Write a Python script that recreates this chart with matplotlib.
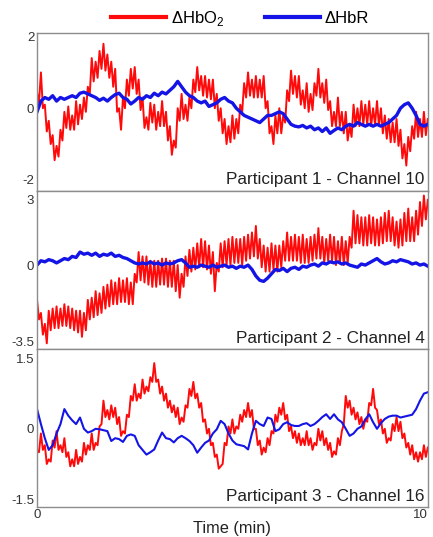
import matplotlib

matplotlib.use("Agg")
import matplotlib.pyplot as plt
import numpy as np
from matplotlib.lines import Line2D

plt.rcParams["font.family"] = ["Liberation Sans", "DejaVu Sans"]
plt.rcParams["mathtext.fontset"] = "custom"
plt.rcParams["mathtext.rm"] = "Liberation Sans"
plt.rcParams["axes.unicode_minus"] = False

# HbO2, one sample every 0.05 min (the trace swings
# between the upper and lower edge of its noisy band)
hbo2_p1 = [
    0.45, 0.15, 1.0, 0.0, 0.1, -0.65, -0.35, -1.0, -0.75, -1.45,
    -1.05, -1.35, -0.6, -0.9, -0.1, -0.55, 0.05, -0.6, -0.2, -0.6,
    0.2, -0.45, 0.1, -0.3, 0.3, -0.1, 0.6, 0.4, 1.4, 0.75,
    1.3, 0.85, 1.6, 1.1, 1.8, 1.05, 1.5, 0.85, 1.3, 0.6,
    1.1, -0.1, 0.0, -0.6, 0.3, 0.0, 0.8, 0.35, 1.1, 0.55,
    1.15, 0.4, 0.8, -0.05, 0.3, -0.55, -0.25, -0.6, 0.15, -0.4,
    0.1, -0.6, -0.1, -0.5, 0.2, -0.5, -0.1, -0.9, -0.5, -1.3,
    -0.9, -1.1, 0.0, -0.35, 0.4, -0.3, 0.1, -0.35, 0.3, 0.0,
    0.8, 0.45, 1.15, 0.5, 0.9, 0.35, 0.9, 0.3, 0.8, 0.25,
    0.8, 0.0, 0.4, -0.35, 0.0, -0.7, -0.3, -1.0, -0.5, -0.95,
    -0.2, -0.85, -0.3, -0.7, 0.1, -0.1, 0.7, 0.3, 1.0, 0.35,
    0.8, 0.3, 0.9, 0.3, 0.8, 0.3, 0.9, 0.0, 0.2, -0.7,
    -0.5, -1.0, -0.2, -0.7, 0.0, -0.7, -0.2, -0.4, 0.5, 0.2,
    1.05, 0.4, 0.9, 0.3, 0.9, 0.1, 0.5, 0.0, 0.7, -0.1,
    0.4, -0.05, 0.7, 0.35, 1.1, 0.3, 0.7, 0.15, 0.8, -0.05,
    0.2, -0.5, -0.1, -0.5, 0.3, -0.5, -0.1, -0.7, -0.1, -0.9,
    -0.5, -0.8, 0.1, -0.5, 0.0, -0.5, 0.2, -0.45, 0.1, -0.45,
    0.2, -0.5, 0.0, -0.45, 0.2, -0.5, 0.0, -0.7, -0.2, -0.85,
    -0.3, -0.95, -0.4, -0.95, -0.3, -1.05, -0.6, -1.4, -1.0, -1.6,
    -0.8, -1.2, -0.5, -0.85, -0.1, -0.8, -0.3, -0.8, -0.1, -0.75,
    -0.3,
]
hbo2_p2 = [
    -1.6, -2.5, -2.2, -3.2, -2.7, -3.6, -2.1, -3.0, -2.0, -2.9,
    -1.9, -2.9, -2.0, -2.8, -1.8, -2.8, -1.9, -2.9, -2.0, -3.0,
    -2.1, -3.1, -2.1, -3.3, -2.2, -3.0, -1.6, -2.5, -1.5, -2.4,
    -1.2, -2.3, -1.3, -2.2, -1.0, -2.0, -0.9, -1.9, -0.7, -1.8,
    -0.8, -1.8, -0.6, -1.7, -0.7, -1.7, -0.6, -1.8, -0.8, -1.8,
    -0.4, -0.8, 0.6, -0.7, 0.4, -0.8, 0.4, -0.9, 0.2, -1.0,
    0.2, -1.0, 0.2, -0.9, 0.3, -0.9, 0.3, -1.0, 0.2, -1.0,
    0.2, -1.2, 0.0, -1.5, -0.4, -1.0, 0.4, -0.5, 0.7, -0.3,
    0.8, -0.2, 1.0, -0.1, 1.2, -0.1, 1.1, -0.2, 0.9, -0.4,
    0.6, -1.2, 0.1, -0.3, 1.0, -0.1, 1.1, 0.0, 1.2, 0.0,
    1.3, 0.1, 1.2, 0.1, 1.2, 0.0, 1.3, 0.2, 1.4, 0.3,
    1.5, 0.4, 1.8, 0.3, 1.2, -0.1, 0.9, -0.3, 0.8, -0.3,
    1.0, -0.2, 0.9, -0.3, 0.9, -0.1, 1.1, 0.2, 1.5, 0.2,
    1.3, 0.2, 1.4, 0.2, 1.3, 0.1, 1.4, 0.1, 1.2, 0.1,
    1.3, 0.2, 1.4, 0.3, 1.7, 0.3, 1.3, 0.1, 1.2, 0.2,
    1.4, 0.2, 1.3, 0.0, 1.1, 0.1, 1.3, 0.0, 1.1, 0.1,
    1.3, 0.8, 2.5, 1.0, 2.3, 1.0, 2.2, 0.9, 2.2, 0.9,
    2.3, 1.0, 2.2, 0.9, 2.1, 0.9, 2.2, 1.0, 2.4, 1.1,
    2.5, 1.1, 2.2, 0.9, 2.0, 0.8, 2.1, 0.9, 2.4, 1.1,
    2.6, 1.1, 2.2, 1.1, 2.5, 1.4, 2.9, 1.8, 3.2, 2.1,
    3.0,
]
hbo2_p3 = [
    -0.45, -0.5, -0.1, -0.45, -0.35, -0.75, -0.65, -0.7, -0.25, -0.4,
    -0.05, -0.45, -0.35, -0.5, -0.2, -0.6, -0.5, -0.8, -0.65, -0.8,
    -0.45, -0.75, -0.6, -0.7, -0.3, -0.55, -0.35, -0.45, -0.1, -0.45,
    -0.3, -0.35, 0.05, 0.1, 0.6, 0.25, 0.4, 0.2, 0.5, 0.25,
    0.45, 0.1, 0.25, -0.15, -0.05, -0.1, 0.3, 0.25, 0.7, 0.6,
    0.95, 0.6, 0.75, 0.65, 1.05, 0.75, 0.9, 0.8, 1.1, 1.0,
    1.4, 1.0, 1.05, 0.75, 0.9, 0.6, 0.75, 0.45, 0.6, 0.35,
    0.5, 0.25, 0.45, 0.1, 0.24, 0.15, 0.5, 0.45, 0.85, 0.7,
    1.0, 0.65, 0.75, 0.45, 0.55, 0.15, 0.2, -0.1, 0.0, -0.35,
    -0.3, -0.6, -0.55, -0.85, -0.8, -0.75, -0.3, -0.35, 0.05, -0.1,
    0.2, -0.1, 0.05, 0.0, 0.3, 0.15, 0.4, 0.25, 0.55, 0.25,
    0.4, 0.0, 0.0, -0.35, -0.25, -0.55, -0.4, -0.5, -0.2, -0.35,
    -0.05, -0.1, 0.3, 0.15, 0.45, 0.3, 0.55, 0.2, 0.3, -0.05,
    0.05, -0.2, -0.05, -0.3, -0.1, -0.35, -0.2, -0.35, -0.05, -0.35,
    -0.2, -0.45, -0.3, -0.35, 0.0, -0.25, -0.05, -0.35, -0.2, -0.45,
    -0.3, -0.6, -0.48, -0.55, -0.2, -0.35, -0.05, 0.1, 0.7, 0.45,
    0.6, 0.3, 0.45, 0.2, 0.35, 0.1, 0.25, 0.0, 0.2, 0.15,
    0.55, 0.5, 0.85, 0.45, 0.4, 0.1, 0.2, -0.1, 0.0, -0.3,
    -0.2, -0.25, 0.1, -0.05, 0.25, -0.05, 0.15, -0.2, -0.1, -0.4,
    -0.3, -0.55, -0.35, -0.65, -0.5, -0.7, -0.5, -0.65, -0.35, -0.6,
    -0.4,
]

# HbR, one sample every 0.1 min
hbr_p1 = [
    -0.1, 0.2, 0.3, 0.25, 0.35, 0.2, 0.3, 0.25, 0.3, 0.35,
    0.3, 0.42, 0.45, 0.4, 0.35, 0.3, 0.22, 0.28, 0.2, 0.3,
    0.38, 0.42, 0.3, 0.25, 0.12, 0.2, 0.3, 0.25, 0.35, 0.3,
    0.42, 0.35, 0.45, 0.4, 0.5, 0.6, 0.75, 0.6, 0.45, 0.35,
    0.3, 0.2, 0.15, 0.2, 0.05, 0.1, 0.15, 0.25, 0.3, 0.2,
    0.15, 0.0, -0.1, -0.2, -0.25, -0.3, -0.35, -0.4, -0.3, -0.2,
    -0.2, -0.15, -0.1, -0.15, -0.3, -0.45, -0.5, -0.52, -0.48, -0.55,
    -0.5, -0.6, -0.55, -0.65, -0.55, -0.7, -0.62, -0.55, -0.6, -0.5,
    -0.45, -0.5, -0.4, -0.45, -0.5, -0.45, -0.5, -0.45, -0.5, -0.45,
    -0.4, -0.3, -0.2, 0.0, 0.1, 0.15, 0.0, -0.2, -0.45, -0.5,
    -0.45,
]
hbr_p2 = [
    0.0, 0.2, 0.15, 0.25, 0.2, 0.1, 0.2, 0.3, 0.25, 0.4,
    0.35, 0.6, 0.5, 0.55, 0.45, 0.55, 0.4, 0.5, 0.45, 0.55,
    0.4, 0.45, 0.35, 0.3, 0.2, 0.1, 0.05, 0.1, 0.05, 0.15,
    0.05, 0.1, 0.0, 0.1, 0.05, 0.1, 0.2, 0.25, 0.1, -0.1,
    -0.05, -0.1, 0.0, -0.05, -0.1, 0.0, -0.1, -0.05, 0.0, -0.1,
    -0.05, -0.15, -0.05, -0.1, 0.0, -0.2, -0.5, -0.7, -0.75, -0.6,
    -0.4, -0.2, -0.25, -0.15, -0.3, -0.15, -0.1, -0.2, -0.05, -0.1,
    0.0, 0.05, -0.05, 0.1, 0.05, 0.15, 0.1, 0.15, 0.05, 0.1,
    0.0, -0.05, -0.1, 0.05, 0.0, 0.1, 0.2, 0.3, 0.15, 0.05,
    0.1, 0.2, 0.15, 0.25, 0.2, 0.15, 0.05, 0.1, 0.0, 0.05,
    -0.05,
]
hbr_p3 = [
    0.42, 0.1, -0.2, -0.45, -0.35, -0.1, 0.1, 0.42, 0.28, 0.18,
    0.1, 0.24, 0.0, -0.08, -0.05, 0.0, -0.01, -0.03, -0.05, -0.26,
    -0.2, -0.22, -0.28, -0.15, -0.12, -0.15, -0.35, -0.45, -0.55, -0.5,
    -0.44, -0.25, -0.08, -0.2, -0.22, -0.29, -0.2, -0.15, -0.2, -0.26,
    -0.35, -0.51, -0.4, -0.3, -0.25, -0.1, -0.01, 0.17, 0.1, -0.1,
    -0.25, -0.33, -0.35, -0.37, -0.44, -0.1, 0.17, 0.1, 0.06, 0.24,
    0.21, -0.05, -0.01, 0.1, 0.14, 0.08, 0.06, 0.06, 0.1, 0.12,
    0.06, 0.1, 0.17, 0.25, 0.31, 0.21, 0.31, 0.2, 0.14, 0.0,
    -0.15, -0.1, 0.0, 0.05, 0.2, 0.31, 0.14, 0.0, 0.12, 0.21,
    0.26, 0.28, 0.28, 0.24, 0.26, 0.28, 0.3, 0.42, 0.6, 0.75,
    0.78,
]

titles = ["Participant 1 - Channel 10", "Participant 2 - Channel 4", "Participant 3 - Channel 16"]
hbo2 = [hbo2_p1, hbo2_p2, hbo2_p3]
hbr = [hbr_p1, hbr_p2, hbr_p3]
ylims = [(-2.3, 2.1), (-3.85, 3.4), (-1.66, 1.7)]
yticks = [[-2, 0, 2], [-3.5, 0, 3], [-1.5, 0, 1.5]]
yticklabels = [["-2", "0", "2"], ["-3.5", "0", "3"], ["-1.5", "0", "1.5"]]

RED = "#ff0a0a"
BLUE = "#1414e6"
SPINE = "#8c8c8c"
blue_lw = [2.4, 2.4, 1.5]

fig = plt.figure(figsize=(4.33, 5.37), dpi=100)
tops = [0.9385, 0.644, 0.35]
h = 0.2935
for i in range(3):
    ax = fig.add_axes([0.0855, tops[i] - h, 0.9025, h])
    ax.plot(np.linspace(0, 10, len(hbo2[i])), hbo2[i], color=RED, lw=1.4)
    ax.plot(np.linspace(0, 10, len(hbr[i])), hbr[i], color=BLUE, lw=blue_lw[i])
    ax.set_xlim(0, 10)
    ax.set_ylim(*ylims[i])
    ax.set_yticks(yticks[i])
    ax.set_yticklabels(yticklabels[i])
    ax.set_xticks([0, 10])
    ax.tick_params(length=0, labelsize=9.5, colors="#333333", pad=2)
    if i < 2:
        ax.set_xticklabels([])
    else:
        ax.set_xticklabels(["0", "10"])
        # keep the right-hand "10" inside the figure
        ax.get_xticklabels()[1].set_horizontalalignment("right")
        ax.set_xlabel("Time (min)", fontsize=11.8, color="#222222", labelpad=0)
    for s in ax.spines.values():
        s.set_color(SPINE)
        s.set_linewidth(1.0)
    ax.text(0.992, 0.02, titles[i], transform=ax.transAxes, ha="right", va="bottom",
            fontsize=12.3, color="#222222")

handles = [Line2D([], [], color=RED, lw=3), Line2D([], [], color=BLUE, lw=3)]
fig.legend(handles, ["\u0394HbO$_2$", "\u0394HbR"], loc="upper center",
           bbox_to_anchor=(0.555, 1.012), ncol=2, frameon=False, fontsize=12,
           handlelength=3.3, columnspacing=2.4, handletextpad=0.3)

fig.savefig("out.png", dpi=100)
